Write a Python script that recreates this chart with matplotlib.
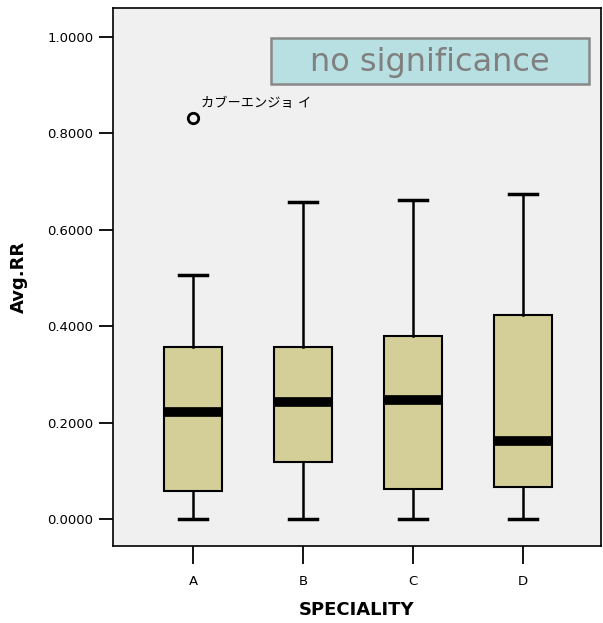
import matplotlib.pyplot as plt
from matplotlib.patches import Rectangle

plt.rcParams['font.family'] = ['DejaVu Sans', 'Noto Sans CJK JP']

# box statistics
groups = ['A', 'B', 'C', 'D']
whisker_low = [0.0, 0.0, 0.0, 0.0]
q1 = [0.058, 0.118, 0.062, 0.066]
medians = [0.222, 0.243, 0.247, 0.162]
q3 = [0.357, 0.357, 0.380, 0.423]
whisker_high = [0.506, 0.658, 0.662, 0.674]
outliers = [[0.832], [], [], []]
outlier_label = 'カブーエンジョ イ'
y_ticks = [0.0, 0.2, 0.4, 0.6, 0.8, 1.0]

stats = []
for i, g in enumerate(groups):
    stats.append({'label': g, 'whislo': whisker_low[i], 'q1': q1[i], 'med': medians[i],
                  'q3': q3[i], 'whishi': whisker_high[i], 'fliers': outliers[i]})

fig = plt.figure(figsize=(6.03, 6.23), dpi=100)
ax = fig.add_axes([0.1874, 0.1236, 0.8093, 0.8636])
ax.set_facecolor('#f0f0f0')

pos = list(range(1, len(groups) + 1))
ax.bxp(stats, positions=pos, widths=0.53, patch_artist=True,
       boxprops=dict(facecolor='#d4cf98', edgecolor='black', linewidth=1.5),
       medianprops=dict(color='black', linewidth=7, solid_capstyle='butt'),
       whiskerprops=dict(color='black', linewidth=1.8),
       capprops=dict(color='black', linewidth=2.5),
       capwidths=0.25,
       flierprops=dict(marker='o', markerfacecolor='none', markeredgecolor='black',
                       markersize=7.5, markeredgewidth=2))

# label for the outlier
ax.annotate(outlier_label, xy=(pos[0], outliers[0][0]), xytext=(6, 6),
            textcoords='offset points', fontsize=9.5, ha='left', va='bottom')

ax.set_xlim(0.273, 4.71)
ax.set_ylim(-0.056, 1.06)
ax.set_yticks(y_ticks)
ax.set_yticklabels([f'{v:.4f}' for v in y_ticks], fontsize=9.5)
ax.set_xticks(pos)
ax.set_xticklabels(groups, fontsize=9.5)
ax.tick_params(axis='y', length=10, width=1.3, pad=4)
ax.tick_params(axis='x', length=13, width=1.3, pad=8)
for sp in ax.spines.values():
    sp.set_linewidth(1.2)

ax.set_ylabel('Avg.RR', fontsize=13, fontweight='bold', labelpad=14)
ax.set_xlabel('SPECIALITY', fontsize=13, fontweight='bold', labelpad=9)

# "no significance" box in axes coordinates
rect = Rectangle((0.323, 0.859), 0.652, 0.085, transform=ax.transAxes,
                 facecolor='#b8dfe2', edgecolor='#888888', linewidth=1.8, zorder=5)
ax.add_patch(rect)
ax.text(0.649, 0.899, 'no significance', transform=ax.transAxes, fontsize=23,
        color='#808080', ha='center', va='center', zorder=6)

fig.savefig('out.png', dpi=100)
